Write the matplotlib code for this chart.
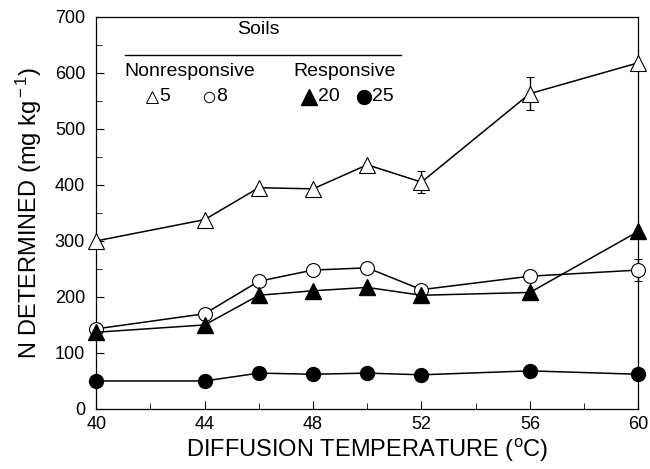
#!/usr/bin/env python3

import matplotlib.pyplot as plt
from matplotlib.ticker import MultipleLocator

plt.rcParams['font.family'] = ['Liberation Sans', 'DejaVu Sans']
plt.rcParams['mathtext.fontset'] = 'custom'
plt.rcParams['mathtext.rm'] = 'Liberation Sans'
plt.rcParams['mathtext.it'] = 'Liberation Sans'

temp = [40, 44, 46, 48, 50, 52, 56, 60]
soil5 = [300, 338, 395, 393, 436, 405, 563, 618]
soil5_err = [0, 0, 0, 0, 0, 20, 30, 0]
soil8 = [143, 170, 228, 248, 252, 213, 237, 248]
soil8_err = [0, 0, 0, 0, 0, 0, 0, 20]
soil20 = [137, 150, 203, 211, 217, 203, 208, 317]
soil25 = [50, 50, 64, 62, 64, 61, 68, 62]

fig = plt.figure(figsize=(6.5, 4.69), dpi=100)
ax = fig.add_axes([0.148, 0.128, 0.834, 0.836])

ax.errorbar(temp, soil5, yerr=soil5_err, color='black', lw=1.1, marker='^',
            ms=11, mfc='white', mec='black', mew=0.8, capsize=3, elinewidth=1,
            capthick=1, clip_on=False, zorder=3)
ax.errorbar(temp, soil8, yerr=soil8_err, color='black', lw=1.1, marker='o',
            ms=10, mfc='white', mec='black', mew=0.8, capsize=3, elinewidth=1,
            capthick=1, clip_on=False, zorder=3)
ax.plot(temp, soil20, color='black', lw=1.1, marker='^', ms=11,
        clip_on=False, zorder=4)
ax.plot(temp, soil25, color='black', lw=1.1, marker='o', ms=10,
        clip_on=False, zorder=4)

ax.set_xlim(40, 60)
ax.set_ylim(0, 700)
ax.set_xticks([40, 44, 48, 52, 56, 60])
ax.xaxis.set_minor_locator(MultipleLocator(2))
ax.yaxis.set_major_locator(MultipleLocator(100))
ax.yaxis.set_minor_locator(MultipleLocator(50))
ax.tick_params(which='both', direction='in', top=False, right=False, labelsize=13)
ax.tick_params(which='major', length=6)
ax.tick_params(which='minor', length=4)
ax.tick_params(axis='x', pad=5)
ax.tick_params(axis='y', pad=8)
for s in ax.spines.values():
    s.set_linewidth(0.9)

ax.set_xlabel('DIFFUSION TEMPERATURE ($^{\\rm o}$C)', fontsize=17, labelpad=3)
ax.set_ylabel('N DETERMINED (mg kg$^{\\rm -1}$)', fontsize=17, labelpad=8)

# legend drawn by hand
t = ax.transAxes
ax.text(0.299, 0.967, 'Soils', transform=t, ha='center', va='center', fontsize=14)
ax.plot([0.053, 0.563], [0.903, 0.903], transform=t, color='black', lw=1, clip_on=False)
ax.text(0.172, 0.860, 'Nonresponsive', transform=t, ha='center', va='center', fontsize=14)
ax.text(0.459, 0.860, 'Responsive', transform=t, ha='center', va='center', fontsize=14)
ax.plot([0.103], [0.796], transform=t, marker='^', ms=8, mfc='white', mec='black', mew=0.7)
ax.text(0.117, 0.796, '5', transform=t, ha='left', va='center', fontsize=14)
ax.plot([0.209], [0.796], transform=t, marker='o', ms=7.5, mfc='white', mec='black', mew=0.7)
ax.text(0.222, 0.796, '8', transform=t, ha='left', va='center', fontsize=14)
ax.plot([0.393], [0.796], transform=t, marker='^', ms=11, color='black')
ax.text(0.409, 0.796, '20', transform=t, ha='left', va='center', fontsize=14)
ax.plot([0.494], [0.796], transform=t, marker='o', ms=10, color='black')
ax.text(0.508, 0.796, '25', transform=t, ha='left', va='center', fontsize=14)

fig.savefig('out.png', dpi=100)
